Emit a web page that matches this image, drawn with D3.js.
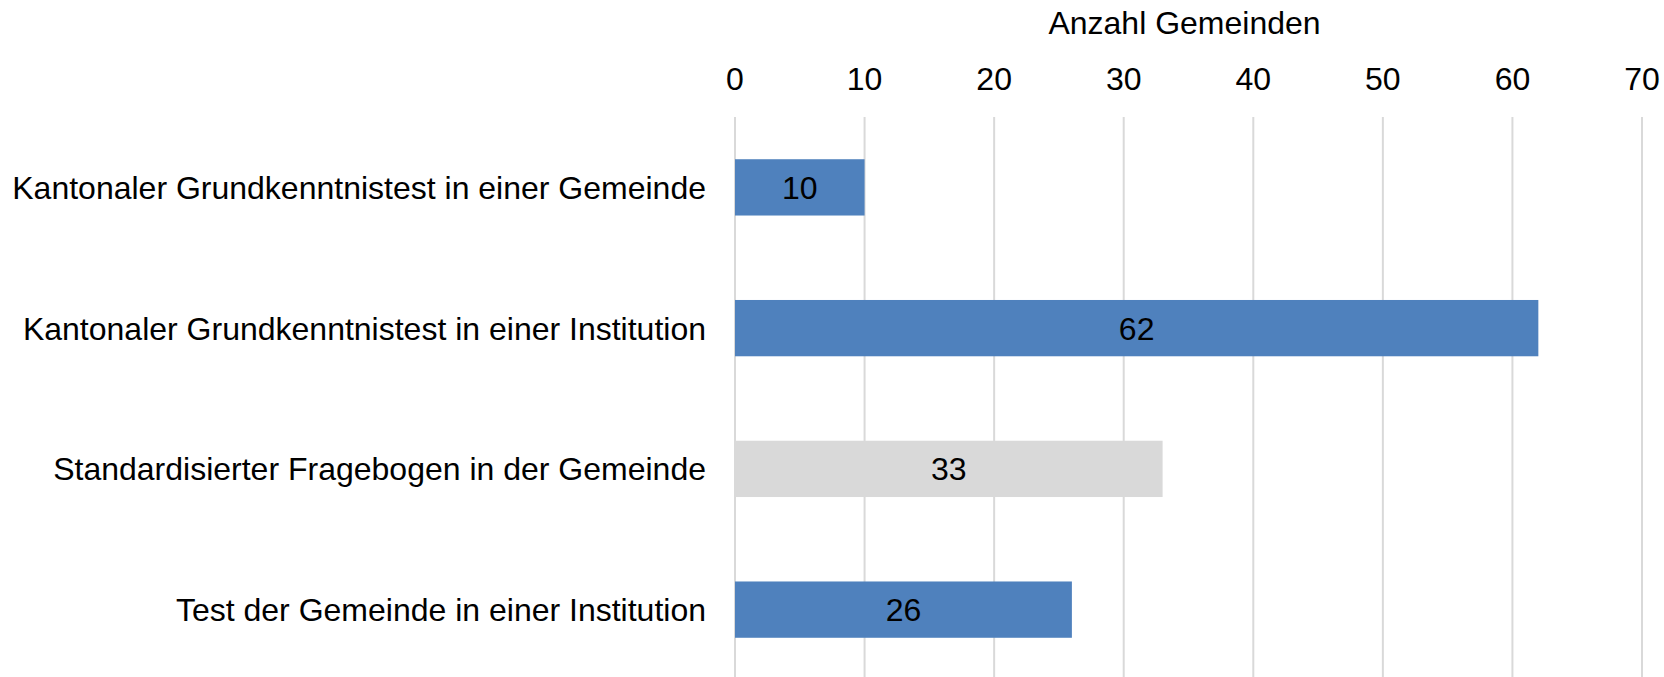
<!DOCTYPE html>
<html>
<head>
<meta charset="utf-8">
<script src="https://cdn.jsdelivr.net/npm/d3@7"></script>
<style>
  body { margin: 0; background: #fff; }
  text { font-family: "Liberation Sans", Arial, sans-serif; }
</style>
</head>
<body>
<div id="chart"></div>
<script>
// data
const categories = [
  "Kantonaler Grundkenntnistest in einer Gemeinde",
  "Kantonaler Grundkenntnistest in einer Institution",
  "Standardisierter Fragebogen in der Gemeinde",
  "Test der Gemeinde in einer Institution"
];
const values = [10, 62, 33, 26];
const highlight = [false, false, true, false];  // grey bar
const xTicks = [0, 10, 20, 30, 40, 50, 60, 70];
const axisTitle = "Anzahl Gemeinden";

const width = 1664;
const height = 677;
const plotLeft = 735, plotRight = 1642;
const plotTop = 117, plotBottom = 680;

const svg = d3.select("#chart")
  .append("svg")
  .attr("width", width)
  .attr("height", height);

const x = d3.scaleLinear()
  .domain([0, 70])
  .range([plotLeft, plotRight]);

const y = d3.scaleBand()
  .domain(categories)
  .range([plotTop, plotBottom])
  .paddingInner(0.6)
  .paddingOuter(0.3);

// gridlines
svg.append("g")
  .selectAll("line")
  .data(xTicks)
  .enter()
  .append("line")
  .attr("x1", d => x(d))
  .attr("x2", d => x(d))
  .attr("y1", plotTop)
  .attr("y2", height)
  .attr("stroke", "#d9d9d9")
  .attr("stroke-width", 2);

// tick labels on top
svg.append("g")
  .selectAll("text")
  .data(xTicks)
  .enter()
  .append("text")
  .attr("x", d => x(d))
  .attr("y", 90)
  .attr("text-anchor", "middle")
  .style("font-size", "32px")
  .attr("fill", "#000")
  .text(d => d);

// axis title
svg.append("text")
  .attr("x", (plotLeft + plotRight) / 2 - 4)
  .attr("y", 34)
  .attr("text-anchor", "middle")
  .style("font-size", "32px")
  .attr("fill", "#000")
  .text(axisTitle);

// bars
svg.append("g")
  .selectAll("rect")
  .data(values)
  .enter()
  .append("rect")
  .attr("x", x(0))
  .attr("y", (d, i) => y(categories[i]))
  .attr("width", d => x(d) - x(0))
  .attr("height", y.bandwidth())
  .attr("fill", (d, i) => highlight[i] ? "#d9d9d9" : "#4f81bd");

// bar labels
svg.append("g")
  .selectAll("text")
  .data(values)
  .enter()
  .append("text")
  .attr("x", d => (x(0) + x(d)) / 2)
  .attr("y", (d, i) => y(categories[i]) + y.bandwidth() / 2)
  .attr("dy", "0.36em")
  .attr("text-anchor", "middle")
  .style("font-size", "32px")
  .attr("fill", "#000")
  .text(d => d);

// category labels
svg.append("g")
  .selectAll("text")
  .data(categories)
  .enter()
  .append("text")
  .attr("x", 706)
  .attr("y", d => y(d) + y.bandwidth() / 2)
  .attr("dy", "0.36em")
  .attr("text-anchor", "end")
  .style("font-size", "32px")
  .attr("fill", "#000")
  .text(d => d);
</script>
</body>
</html>
